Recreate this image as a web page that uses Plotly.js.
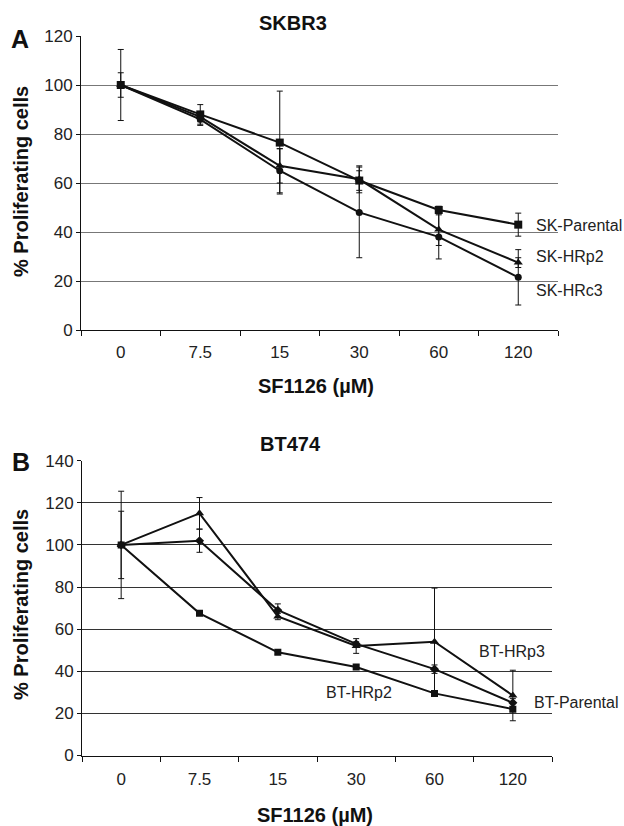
<!DOCTYPE html>
<html>
<head>
<meta charset="utf-8">
<script src="https://cdn.plot.ly/plotly-3.0.1.min.js"></script>
<style>html,body{margin:0;padding:0;background:#fff;}</style>
</head>
<body>
<div id="chart" style="width:624px;height:826px;"></div>
<script>
// Categories (SF1126 concentration, µM)
const doses = ['0', '7.5', '15', '30', '60', '120'];

// Panel A – SKBR3
const skParental = [100, 88, 76.5, 61, 49, 43];
const skParentalErr = [14.5, 4, 21, 4, 1.5, 4.7];
const skHRp2 = [100, 87, 67, 61.5, 41, 27.5];
const skHRp2Err = [5, 2, 7, 5.5, 6.5, 2];
const skHRc3 = [100, 86, 65, 48, 38, 21.5];
const skHRc3Err = [0, 2.5, 9, 18.5, 9, 11.3];

// Panel B – BT474
const btHRp3 = [100, 115, 66, 52, 54, 28.5];
const btHRp3Err = [25.5, 7.5, 1.5, 3.5, 25.5, 12];
const btParental = [100, 102, 69, 53, 41, 25];
const btParentalErr = [16, 5.5, 3, 1, 2, 2];
const btHRp2 = [100, 67.5, 49, 42, 29.5, 22];
const btHRp2Err = [1, 1, 1, 1, 1, 1];

const FONT = '"Liberation Sans", Arial, Helvetica, sans-serif';

function series(y, err, symbol, size, xa, ya, name) {
  return {
    type: 'scatter', mode: 'lines+markers', name: name,
    x: doses, y: y, xaxis: xa, yaxis: ya,
    line: {color: '#111', width: 2},
    marker: {symbol: symbol, size: size, color: '#111'},
    error_y: {type: 'data', array: err, visible: true, color: '#111', thickness: 1, width: 3}
  };
}

const data = [
  series(skParental, skParentalErr, 'square', 8, 'x', 'y', 'SK-Parental'),
  series(skHRp2, skHRp2Err, 'triangle-up', 8, 'x', 'y', 'SK-HRp2'),
  series(skHRc3, skHRc3Err, 'circle', 7, 'x', 'y', 'SK-HRc3'),
  series(btHRp3, btHRp3Err, 'triangle-up', 8, 'x2', 'y2', 'BT-HRp3'),
  series(btParental, btParentalErr, 'diamond', 7, 'x2', 'y2', 'BT-Parental'),
  series(btHRp2, btHRp2Err, 'square', 7, 'x2', 'y2', 'BT-HRp2')
];

const W = 624, H = 826;
const px = v => v / W;
const py = v => 1 - v / H;

function xax(domain, anchor, standoff) {
  return {
    domain: domain, anchor: anchor, type: 'category', tickson: 'boundaries',
    categoryorder: 'array', categoryarray: doses,
    range: [-0.5, 5.5], autorange: false, tickangle: 0,
    ticks: 'outside', ticklen: 5, tickcolor: '#111', tickwidth: 1,
    ticklabelstandoff: standoff,
    showline: true, linecolor: '#111', linewidth: 1, showgrid: false,
    tickfont: {family: FONT, size: 17, color: '#222'}, fixedrange: true
  };
}
function yax(domain, anchor, max, grid) {
  return {
    domain: domain, anchor: anchor, range: [0, max], autorange: false, dtick: 20,
    ticks: 'outside', ticklen: 4, tickcolor: '#111',
    showline: true, linecolor: '#111', linewidth: 1,
    showgrid: true, gridcolor: grid, gridwidth: 1, zeroline: false,
    tickfont: {family: FONT, size: 17, color: '#222'}, fixedrange: true
  };
}

function txt(text, x, y, size, bold, extra) {
  return Object.assign({
    text: bold ? '<b>' + text + '</b>' : text,
    xref: 'paper', yref: 'paper', x: px(x), y: py(y),
    xanchor: 'center', yanchor: 'middle', showarrow: false,
    font: {family: FONT, size: size, color: '#111'}
  }, extra || {});
}
function lbl(text, xa, ya, idx, y, anchor, shift) {
  return {text: text, xref: xa, yref: ya, x: idx, y: y, xanchor: anchor, xshift: shift,
          yanchor: 'middle', showarrow: false, font: {family: FONT, size: 16, color: '#222'}};
}

const annotations = [
  txt('A', 20, 39, 25, true),
  txt('SKBR3', 293, 23, 20, true),
  txt('% Proliferating cells', 21, 182, 20, true, {textangle: -90}),
  txt('SF1126 (µM)', 316, 386, 20, true),
  lbl('SK-Parental', 'x', 'y', 5, 42.6, 'left', 16),
  lbl('SK-HRp2', 'x', 'y', 5, 29.8, 'left', 16),
  lbl('SK-HRc3', 'x', 'y', 5, 16.3, 'left', 16),

  txt('B', 21, 462, 25, true),
  txt('BT474', 290, 444, 20, true),
  txt('% Proliferating cells', 21, 605, 20, true, {textangle: -90}),
  txt('SF1126 (µM)', 315, 815, 20, true),
  lbl('BT-HRp3', 'x2', 'y2', 5, 49.4, 'center', -1),
  lbl('BT-HRp2', 'x2', 'y2', 3, 29.8, 'center', 3),
  lbl('BT-Parental', 'x2', 'y2', 5, 25, 'left', 19)
];

const layout = {
  width: W, height: H,
  margin: {l: 0, r: 0, t: 0, b: 0},
  paper_bgcolor: '#fff', plot_bgcolor: '#fff',
  showlegend: false,
  font: {family: FONT, color: '#111'},
  xaxis: xax([px(81), px(558)], 'y', 7),
  yaxis: yax([py(330), py(36)], 'x', 120, '#777'),
  xaxis2: xax([px(82), px(552)], 'y2', 8),
  yaxis2: yax([py(755.5), py(460.7)], 'x2', 140, '#333'),
  annotations: annotations
};

Plotly.newPlot('chart', data, layout, {displayModeBar: false, staticPlot: true});
</script>
</body>
</html>
